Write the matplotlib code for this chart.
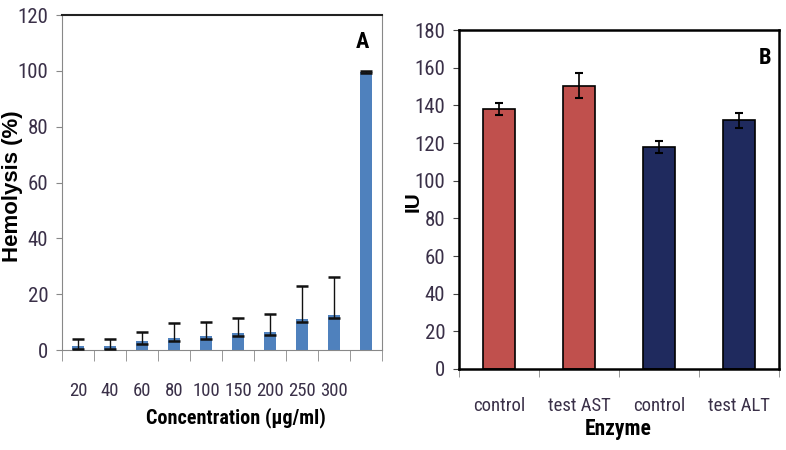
import matplotlib.pyplot as plt
import numpy as np

# Panel A data
conc_labels = ['20', '40', '60', '80', '100', '150', '200', '250', '300', '']
hemolysis = [1.5, 1.5, 3.3, 4.3, 5.0, 6.0, 6.5, 11.0, 12.5, 99.5]
hemo_err_up = [2.5, 2.5, 3.0, 5.2, 5.0, 5.5, 6.5, 12.0, 13.5, 0.3]
hemo_err_down = [1.0, 1.0, 1.0, 1.0, 1.0, 1.0, 1.0, 1.0, 1.0, 0.3]

# Panel B data
enzyme_labels = ['control', 'test AST', 'control', 'test ALT']
iu_values = [138, 150.5, 118, 132]
iu_err = [3.3, 6.7, 3.2, 3.9]
enzyme_colors = ['#C0504D', '#C0504D', '#1F2A5E', '#1F2A5E']

narrow = ['Roboto Condensed', 'DejaVu Sans']
wide = ['Liberation Sans', 'DejaVu Sans']
tick_color = '#3a3048'

fig = plt.figure(figsize=(7.86, 4.5), dpi=100)

# ---- Panel A ----
axA = fig.add_axes([0.0789, 0.2222, 0.407, 0.7444])
xa = np.arange(1, len(hemolysis) + 1)
axA.bar(xa, hemolysis, width=0.4, color='#4F81BD', zorder=2)
axA.errorbar(xa, hemolysis, yerr=[hemo_err_down, hemo_err_up], fmt='none',
             ecolor='#111111', elinewidth=1.0, capsize=4, capthick=1.8, zorder=3)
axA.set_xlim(0.5, len(hemolysis) + 0.5)
axA.set_ylim(0, 120)
axA.set_yticks(range(0, 121, 20))
axA.set_xticks(xa)
axA.set_xticklabels(conc_labels, family=narrow, fontsize=13.5, color=tick_color)
axA.set_xticks(np.arange(0.5, len(hemolysis) + 1), minor=True)
axA.tick_params(axis='x', which='major', length=0, pad=23)
axA.tick_params(axis='x', which='minor', length=8, color='#888888', direction='out')
axA.tick_params(axis='y', length=4, color='#888888', direction='out', pad=6)
for lab in axA.get_yticklabels():
    lab.set_family(narrow)
    lab.set_fontsize(15)
    lab.set_color(tick_color)
axA.spines['left'].set_color('#888888')
axA.spines['bottom'].set_color('#888888')
axA.spines['right'].set_color('#888888')
axA.spines['top'].set_color('#222222')
axA.spines['top'].set_linewidth(1.5)
fig.text(13 / 786, 0.587, 'Hemolysis (%)', family=wide, fontsize=16,
         fontweight='bold', rotation=90, ha='center', va='center')
axA.set_xlabel('Concentration (µg/ml)', family=narrow, fontsize=14.5,
               fontweight='bold')
axA.xaxis.set_label_coords(0.544, -0.172)
axA.text(0.9375, 0.919, 'A', transform=axA.transAxes, family=narrow,
         fontsize=16, fontweight='bold', ha='center', va='center')

# ---- Panel B ----
axB = fig.add_axes([0.584, 0.18, 0.407, 0.7533])
xb = np.arange(1, len(iu_values) + 1)
axB.bar(xb, iu_values, width=0.4, color=enzyme_colors, edgecolor='black',
        linewidth=1.2, zorder=2)
axB.errorbar(xb, iu_values, yerr=iu_err, fmt='none', ecolor='black',
             elinewidth=1.2, capsize=3, capthick=1.5, zorder=3)
axB.set_xlim(0.5, len(iu_values) + 0.5)
axB.set_ylim(0, 180)
axB.set_yticks(range(0, 181, 20))
axB.set_xticks(xb)
axB.set_xticklabels(enzyme_labels, family=narrow, fontsize=13.5, color=tick_color)
axB.set_xticks(np.arange(0.5, len(iu_values) + 1), minor=True)
axB.tick_params(axis='x', which='major', length=0, pad=20)
axB.tick_params(axis='x', which='minor', length=6, color='#888888', direction='out')
axB.tick_params(axis='y', length=4, color='#444444', direction='out', pad=6)
for lab in axB.get_yticklabels():
    lab.set_family(narrow)
    lab.set_fontsize(15)
    lab.set_color(tick_color)
for side in ['left', 'bottom', 'right', 'top']:
    axB.spines[side].set_color('black')
    axB.spines[side].set_linewidth(1.8)
fig.text(413 / 786, 1 - 202 / 450, 'IU', family=wide, fontsize=15,
         fontweight='bold', rotation=90, ha='center', va='center')
axB.set_xlabel('Enzyme', family=narrow, fontsize=15.5, fontweight='bold')
axB.xaxis.set_label_coords(0.498, -0.145)
axB.text(0.956, 0.917, 'B', transform=axB.transAxes, family=narrow,
         fontsize=16, fontweight='bold', ha='center', va='center')

fig.savefig('out.png', dpi=100)
